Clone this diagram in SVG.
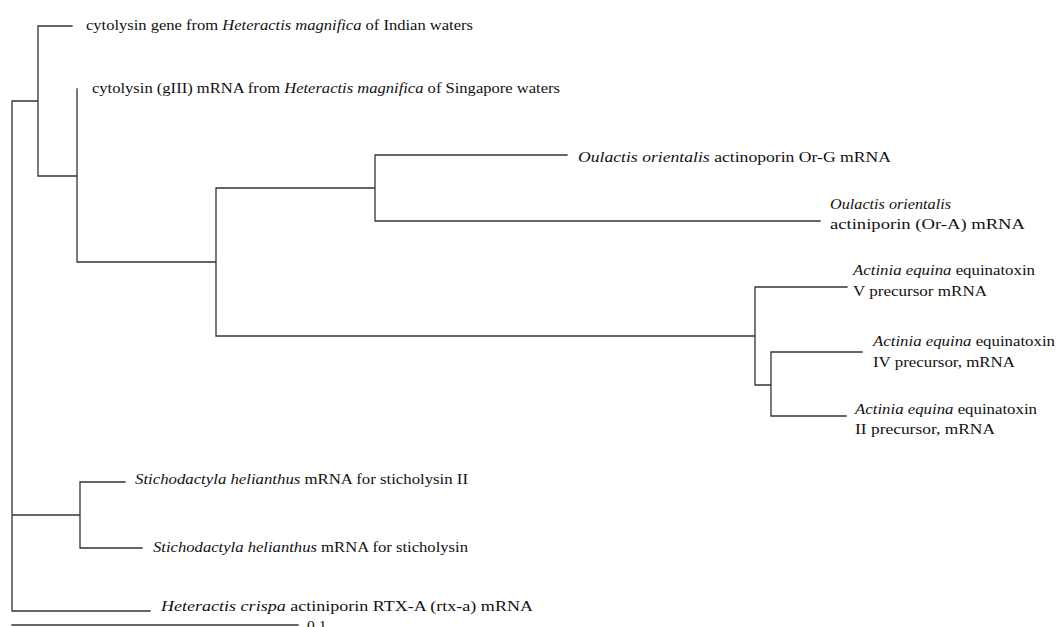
<svg xmlns="http://www.w3.org/2000/svg" width="1056" height="627" viewBox="0 0 1056 627">
<style>
.br{fill:none;stroke:#333;stroke-width:1.3;stroke-linecap:square}
text{font-family:"Liberation Serif","Times New Roman",serif;font-size:15.5px;fill:#111}
.i{font-style:italic}
</style>
<rect width="1056" height="627" fill="#fff"/>
<g id="connectors">
<path class="br" d="M12,101 V611 M12,101 H38 M38,26 V176 M38,26 H72 M38,176 H77 M77,89 V262 M77,262 H216 M216,188 V336 M216,188 H375 M375,155 V221 M375,155 H567 M375,221 H820 M216,336 H755 M755,287 V385 M755,287 H847 M755,385 H771 M771,352 V416 M771,352 H862 M771,416 H846 M12,515 H80 M80,482 V548 M80,482 H125 M80,548 H142 M12,611 H150"/>
</g>
<g id="leaf1"><text x="86" y="30" textLength="387" lengthAdjust="spacingAndGlyphs">cytolysin gene from <tspan class="i">Heteractis magnifica</tspan> of Indian waters</text></g>
<g id="leaf2"><text x="92" y="93" textLength="468" lengthAdjust="spacingAndGlyphs">cytolysin (gIII) mRNA from <tspan class="i">Heteractis magnifica</tspan> of Singapore waters</text></g>
<g id="leaf-orG"><text x="578" y="162" textLength="313" lengthAdjust="spacingAndGlyphs"><tspan class="i">Oulactis orientalis</tspan> actinoporin Or-G mRNA</text></g>
<g id="leaf-orA"><text x="830" y="209" class="i" textLength="121" lengthAdjust="spacingAndGlyphs">Oulactis orientalis</text><text x="830" y="229" textLength="195" lengthAdjust="spacingAndGlyphs">actiniporin (Or-A) mRNA</text></g>
<g id="leaf-V"><text x="853" y="275" textLength="182" lengthAdjust="spacingAndGlyphs"><tspan class="i">Actinia equina</tspan> equinatoxin</text><text x="853" y="296" textLength="134" lengthAdjust="spacingAndGlyphs">V precursor mRNA</text></g>
<g id="leaf-IV"><text x="873" y="346" textLength="182" lengthAdjust="spacingAndGlyphs"><tspan class="i">Actinia equina</tspan> equinatoxin</text><text x="873" y="367" textLength="142" lengthAdjust="spacingAndGlyphs">IV precursor, mRNA</text></g>
<g id="leaf-II"><text x="855" y="414" textLength="182" lengthAdjust="spacingAndGlyphs"><tspan class="i">Actinia equina</tspan> equinatoxin</text><text x="855" y="434" textLength="140" lengthAdjust="spacingAndGlyphs">II precursor, mRNA</text></g>
<g id="leaf-sticho2"><text x="135" y="484" textLength="333" lengthAdjust="spacingAndGlyphs"><tspan class="i">Stichodactyla helianthus</tspan> mRNA for sticholysin II</text></g>
<g id="leaf-sticho"><text x="153" y="552" textLength="315" lengthAdjust="spacingAndGlyphs"><tspan class="i">Stichodactyla helianthus</tspan> mRNA for sticholysin</text></g>
<g id="leaf-crispa"><text x="161" y="611" textLength="372" lengthAdjust="spacingAndGlyphs"><tspan class="i">Heteractis crispa</tspan> actiniporin RTX-A (rtx-a) mRNA</text></g>
<g id="scale"><path class="br" d="M12,625 H298"/><text x="307" y="631">0.1</text></g>
</svg>
